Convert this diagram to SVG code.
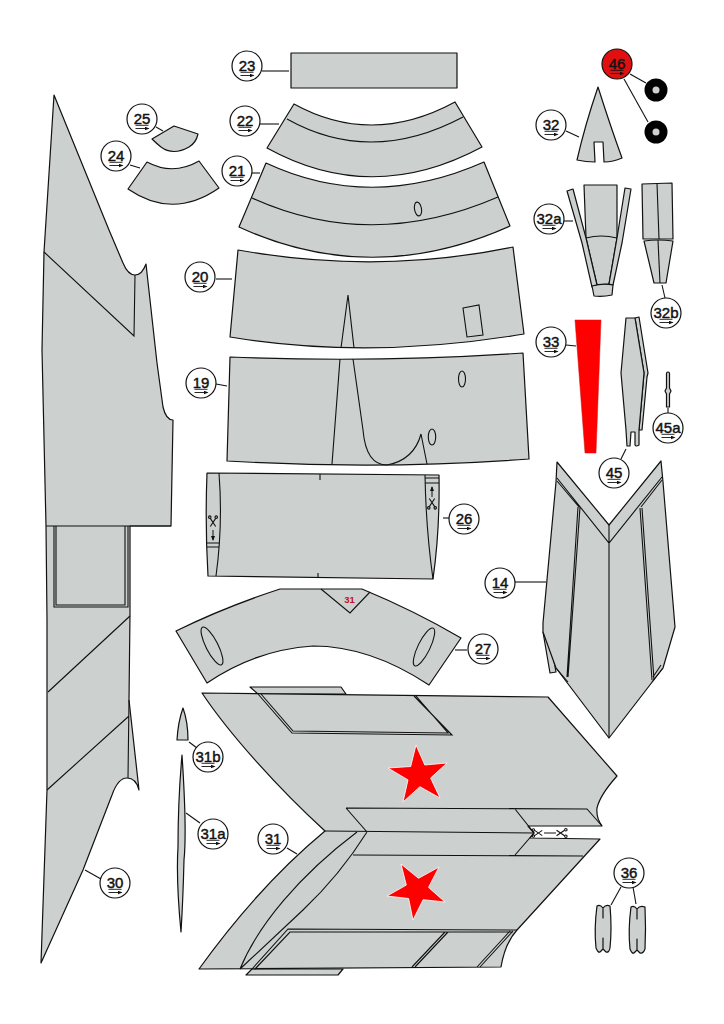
<svg xmlns="http://www.w3.org/2000/svg" width="724" height="1024" viewBox="0 0 724 1024">
<style>
.p{fill:#ccd0ce;stroke:#111;stroke-width:1.2;stroke-linejoin:round}
.l{fill:none;stroke:#111;stroke-width:1.1}
.c line{stroke:#111;stroke-width:1.1}
.n{fill:#fff;stroke:#111;stroke-width:1.2}
.t{font-family:"Liberation Sans",Arial,sans-serif;font-size:15px;font-weight:400;text-anchor:middle;fill:#111;stroke:#111;stroke-width:.45}
</style>
<defs>
<marker id="ah" markerWidth="5" markerHeight="4" refX="4" refY="2" orient="auto" markerUnits="userSpaceOnUse"><path d="M0,0L5,2L0,4Z" fill="#111"/></marker>
<g id="mark"><line x1="-6.500" y1="6.300" x2="6.500" y2="6.300" stroke="#111" stroke-width="0.900"/><line x1="-6.500" y1="9.500" x2="6.500" y2="9.500" stroke="#111" stroke-width="0.900" marker-end="url(#ah)"/></g>
<g id="sc" fill="none" stroke="#111" stroke-width="1.200"><path d="M-3,4L3,-5M3,4L-3,-5"/><circle cx="-3.600" cy="5.400" r="1.400"/><circle cx="3.600" cy="5.400" r="1.400"/></g>
</defs>
<rect width="724" height="1024" fill="#fff"/>

<g id="connectors" class="c">
<line x1="262" y1="71" x2="289" y2="71"/><line x1="259" y1="124" x2="279" y2="124"/><line x1="252" y1="173" x2="260" y2="173"/>
<line x1="156" y1="127" x2="163" y2="131"/><line x1="130" y1="165" x2="140" y2="168"/><line x1="216" y1="279" x2="232" y2="279"/>
<line x1="216" y1="384" x2="227" y2="386"/><line x1="443" y1="518" x2="449" y2="518"/><line x1="455" y1="650" x2="467" y2="650"/>
<line x1="515" y1="582" x2="546" y2="582"/><line x1="621" y1="887" x2="611" y2="905"/><line x1="633" y1="887" x2="636" y2="904"/>
<line x1="566" y1="131" x2="579" y2="137"/><line x1="564" y1="221" x2="573" y2="221"/><line x1="662" y1="285" x2="665" y2="298"/>
<line x1="566" y1="345" x2="576" y2="346"/><line x1="621" y1="459" x2="626" y2="449"/><line x1="668" y1="408" x2="668" y2="413"/>
<line x1="630" y1="74" x2="646" y2="83"/><line x1="624" y1="79" x2="648" y2="122"/>
<line x1="189" y1="742" x2="197" y2="748"/><line x1="186" y1="813" x2="200" y2="823"/><line x1="287" y1="848" x2="297" y2="854"/>
<line x1="85" y1="870" x2="101" y2="879"/>
</g>

<g id="part-30">
<path class="p" d="M54,95L109,230L123,263Q128,275 135,275Q142,275 146,264L157,363L163,407Q166,420 173,420L171,526L130,526L130,613L129,700L139,790Q136,778 127,778Q118,778 112,795L83,870L41,963L47,790L47,620L46,526L42,350L44,252Z"/>
<path class="l" d="M44,252L134,336L135,275M46,526H171M54,526V607H128V526M56,526V605H125V526M48,692L130,616M47,790L129,716M129,700L128,778"/>
</g>
<g id="part-23"><rect class="p" x="291" y="53" width="166" height="35"/></g>
<g id="part-22"><path class="p" d="M294,104Q372,147 455,102L482,147Q372,206 267,148Z"/><path class="l" d="M287,119Q371,166 463,117"/></g>
<g id="part-21"><path class="p" d="M266,163Q371,212 484,162L510,226Q372,288 239,227Z"/><path class="l" d="M252,198Q371,252 498,197"/><ellipse class="l" cx="418" cy="209" rx="3.500" ry="7" transform="rotate(-10 418 209)"/></g>
<g id="part-25"><path class="p" d="M174,126L198,134Q196,143 189,147Q173,156 161,147Q156,143 152,139Z"/></g>
<g id="part-24"><path class="p" d="M147,162Q173,176 199,161L219,188Q173,220 128,189Z"/></g>
<g id="part-20"><path class="p" d="M238,250Q378,275 513,247L524,334Q369,360 230,337Z"/><path class="l" d="M341,348L348,295L354,348M463,308L479,305L483,335L467,337Z"/></g>
<g id="part-19"><path class="p" d="M230,357Q377,363 523,353L529,459Q382,470 227,461Z"/><path class="l" d="M340,359L332,464M353,359L363,430Q366,465 387,465Q414,460 421,434L427,464"/><ellipse class="l" cx="462" cy="379" rx="3.500" ry="8"/><ellipse class="l" cx="432" cy="437" rx="3.700" ry="8"/></g>
<g id="part-26">
<path class="p" d="M207,473L439,475Q440,530 433,579L208,576Q205,525 207,473Z"/>
<path class="l" d="M219,473Q223,525 216,576M425,475Q426,530 433,579M320,474V480M318,573V578M425,478H439M425,483H439M207,543H219M207,547H219"/>
<use href="#sc" transform="translate(213,522) rotate(180) scale(.9)"/><use href="#sc" transform="translate(432,503) scale(.9)"/>
<line x1="213" y1="530" x2="213" y2="540" stroke="#111" marker-end="url(#ah)"/><line x1="432" y1="497" x2="432" y2="487" stroke="#111" marker-end="url(#ah)"/>
</g>
<g id="part-27">
<path class="p" d="M176,631Q225,607 280,589L362,589Q415,611 461,638L429,685Q370,646 313,646Q255,650 207,683Z"/>
<path class="l" d="M321,589L350,613L370,592"/>
<ellipse class="l" cx="212" cy="646" rx="6" ry="21" transform="rotate(-27 212 646)"/><ellipse class="l" cx="424" cy="647" rx="6" ry="21" transform="rotate(26 424 647)"/>
<text x="349.500" y="603" font-family="Liberation Sans,Arial,sans-serif" font-size="9.500" font-weight="700" text-anchor="middle" fill="#c1121f">31</text>
</g>
<g id="part-31">
<path class="p" d="M250,687H341L346,694H258Z"/>
<path class="p" d="M246,975H338L343,969H252Z"/>
<path class="p" d="M202,693L548,697L617,776Q600,795 597,808Q596,818 602,826L528,826L534,833L530,838L600,839L517,930Q505,943 501,967L199,969C245,905 290,860 325,831C280,790 230,735 202,693Z"/>
<path class="l" d="M325,831L534,833M346,808L367,832M346,808L587,809L602,826M515,809L534,833L515,855M353,855L583,856M240,969C258,925 300,875 357,832M240,969L303,910Q340,875 367,832"/>
<path class="l" d="M258,694L292,733L452,735L414,696M261,694L293,731L448,733L416,696"/>
<path class="l" d="M252,969L288,929L517,930M255,969L290,932L513,932M445,932L412,967M448,932L415,967M510,931L477,967M513,931L480,967"/>
<polygon points="416,745 424.800,765 447,763 430.600,778 440,798 419.900,786.700 403,802 408,779.900 388,768 410.700,766.500" fill="#f00" stroke="#fff" stroke-width="0.800"/>
<polygon points="401,864 418.500,878.300 439,867 428.500,887.400 445,902 423.100,899.700 413,920 408.600,898.500 387,896 406.300,885.100" fill="#f00" stroke="#fff" stroke-width="0.800"/>
<use href="#sc" transform="translate(538,833) rotate(90) scale(.85)"/><use href="#sc" transform="translate(561,833) rotate(-90) scale(.9)"/>
<line x1="544" y1="833" x2="556" y2="833" stroke="#111"/>
</g>
<g id="part-31b"><path class="p" d="M183,708Q188,722 188,740H177Q178,722 183,708Z"/></g>
<g id="part-31a"><path class="p" d="M182,755Q187,830 184,860Q183,900 181,932Q176,880 178,847Q178,800 182,755Z"/></g>
<g id="part-14">
<path class="p" d="M543,632L550,673L556,672L552,650Z"/>
<path class="p" d="M557,462L609,525L661,461L663,482L675,627L663,668L609,738L556,668L543,632L543,623L556,482Z"/>
<path class="l" d="M609,525V738M557,478L609,543L662,477M557,481L579,507M662,480L641,507M580,507L568,677M578,507L567,677M556,668L568,682M640,508L652,680M642,508L654,680M663,668L652,682M661,665L653,677"/>
</g>
<g id="part-32"><path class="p" d="M598,87Q610,125 622,158Q613,162 604,162L603,142H594L595,162Q586,162 577,160Q585,125 598,87Z"/></g>
<g id="part-32a">
<path class="p" d="M584,185H617L617,238L609,284L597,285L586,238Z"/>
<path class="l" d="M586,238Q601,234 617,238"/>
<path class="p" d="M567,191L573,189L586,238L597,285L592,287L582,243Z"/>
<path class="p" d="M625,188L631,189L622,243L613,285L609,284L617,238Z"/>
<path class="p" d="M592,286Q603,283 613,285L612,295Q603,297 594,296Z"/>
</g>
<g id="part-32b">
<path class="p" d="M642,184L672,183L673,239H643Z"/>
<path class="l" d="M657,183L659,239"/>
<path class="p" d="M644,241Q658,239 673,241L666,283H654Z"/>
<path class="l" d="M658,240L660,283"/>
</g>
<g id="part-33"><path d="M575,320H601L596,453H585Z" fill="#f00" stroke="#d01010" stroke-width=".5"/></g>
<g id="part-45">
<path class="p" d="M635,318L639,317L648,373L647,377L642,430H639L644,373Z"/>
<path class="p" d="M626,318L635,318L644,373L639,430V445Q636,447 635,445V432H631L630,446H627L626,430L621,373Z"/>
</g>
<g id="part-45a"><path class="p" d="M666.500,373Q668,371 669.500,373L669.500,388L671,391L669.500,394V407H666.500V394L665,391L666.500,388Z"/></g>
<g id="part-36">
<path class="p" d="M603,918V908Q600,904 597,906Q594,928 596,948Q598,953 600,952L603,949V938V949L606,952Q609,953 610,948Q612,928 610,906Q606,904 603,908Z"/>
<path class="p" d="M637,919V909Q634,905 631,907Q628,929 630,949Q632,954 634,953L637,950V939V950L640,953Q643,954 645,949Q646,929 645,907Q640,905 637,909Z"/>
</g>
<g id="part-46-wheels">
<circle cx="656" cy="90" r="11.500" fill="#000"/><circle cx="656" cy="90" r="3.500" fill="#ccd0ce"/>
<circle cx="656" cy="132" r="11.500" fill="#000"/><circle cx="656" cy="132" r="3.500" fill="#ccd0ce"/>
</g>

<g id="label-23"><circle class="n" cx="247" cy="66" r="15"/><use href="#mark" x="247" y="66"/><text class="t" x="247" y="71">23</text></g>
<g id="label-22"><circle class="n" cx="245" cy="121" r="15"/><use href="#mark" x="245" y="121"/><text class="t" x="245" y="126">22</text></g>
<g id="label-21"><circle class="n" cx="237" cy="171" r="15"/><use href="#mark" x="237" y="171"/><text class="t" x="237" y="176">21</text></g>
<g id="label-25"><circle class="n" cx="142" cy="119" r="15"/><use href="#mark" x="142" y="119"/><text class="t" x="142" y="124">25</text></g>
<g id="label-24"><circle class="n" cx="116" cy="156" r="15"/><use href="#mark" x="116" y="156"/><text class="t" x="116" y="161">24</text></g>
<g id="label-20"><circle class="n" cx="200" cy="277" r="15"/><use href="#mark" x="200" y="277"/><text class="t" x="200" y="282">20</text></g>
<g id="label-19"><circle class="n" cx="201" cy="383" r="15"/><use href="#mark" x="201" y="383"/><text class="t" x="201" y="388">19</text></g>
<g id="label-26"><circle class="n" cx="464" cy="519" r="15"/><use href="#mark" x="464" y="519"/><text class="t" x="464" y="524">26</text></g>
<g id="label-27"><circle class="n" cx="483" cy="649" r="15"/><use href="#mark" x="483" y="649"/><text class="t" x="483" y="654">27</text></g>
<g id="label-14"><circle class="n" cx="500" cy="583" r="15"/><use href="#mark" x="500" y="583"/><text class="t" x="500" y="588">14</text></g>
<g id="label-36"><circle class="n" cx="629" cy="873" r="15"/><use href="#mark" x="629" y="873"/><text class="t" x="629" y="878">36</text></g>
<g id="label-32"><circle class="n" cx="551" cy="125" r="15"/><use href="#mark" x="551" y="125"/><text class="t" x="551" y="130">32</text></g>
<g id="label-32a"><circle class="n" cx="549" cy="219" r="15"/><use href="#mark" x="549" y="219"/><text class="t" x="549" y="224">32a</text></g>
<g id="label-32b"><circle class="n" cx="666" cy="313" r="15"/><use href="#mark" x="666" y="313"/><text class="t" x="666" y="318">32b</text></g>
<g id="label-33"><circle class="n" cx="551" cy="342" r="15"/><use href="#mark" x="551" y="342"/><text class="t" x="551" y="347">33</text></g>
<g id="label-45"><circle class="n" cx="614" cy="473" r="15"/><use href="#mark" x="614" y="473"/><text class="t" x="614" y="478">45</text></g>
<g id="label-45a"><circle class="n" cx="668" cy="428" r="15"/><use href="#mark" x="668" y="428"/><text class="t" x="668" y="433">45a</text></g>
<g id="label-46"><circle cx="617" cy="64" r="15" fill="#e01010" stroke="#111" stroke-width="1.200"/><use href="#mark" x="617" y="64"/><text class="t" x="617" y="69">46</text></g>
<g id="label-31b"><circle class="n" cx="208" cy="757" r="15"/><use href="#mark" x="208" y="757"/><text class="t" x="208" y="762">31b</text></g>
<g id="label-31a"><circle class="n" cx="213" cy="834" r="15"/><use href="#mark" x="213" y="834"/><text class="t" x="213" y="839">31a</text></g>
<g id="label-31"><circle class="n" cx="273" cy="839" r="15"/><use href="#mark" x="273" y="839"/><text class="t" x="273" y="844">31</text></g>
<g id="label-30"><circle class="n" cx="115" cy="883" r="15"/><use href="#mark" x="115" y="883"/><text class="t" x="115" y="888">30</text></g>
</svg>
